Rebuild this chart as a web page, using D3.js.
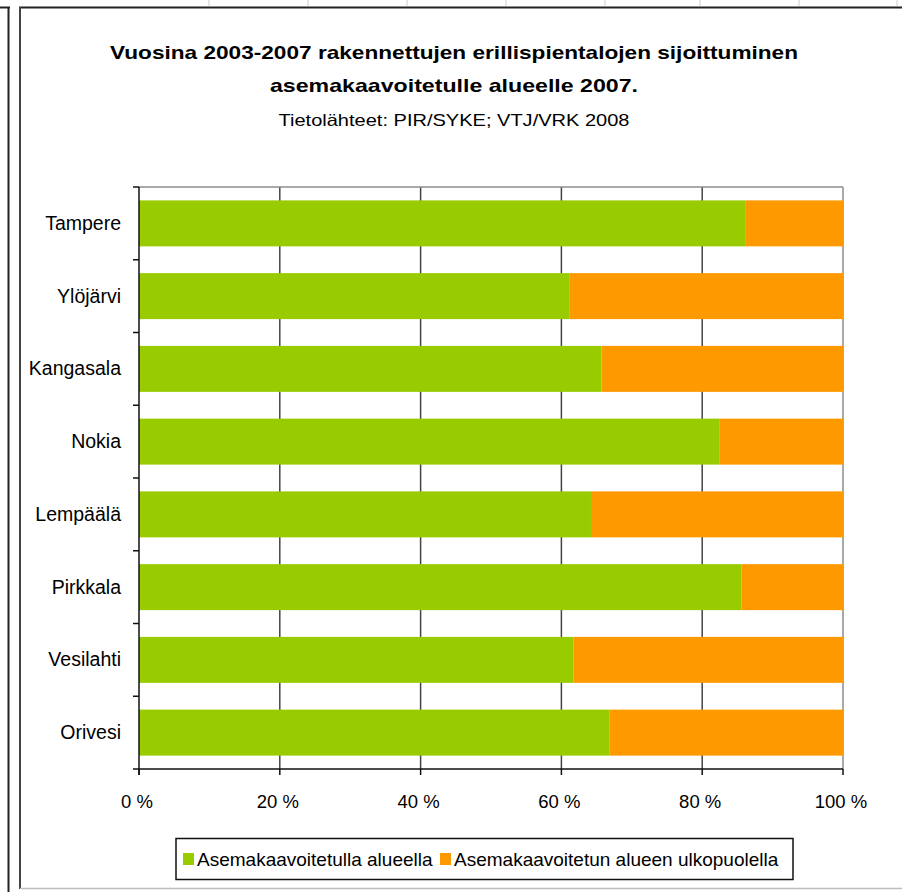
<!DOCTYPE html>
<html>
<head>
<meta charset="utf-8">
<script src="https://cdn.jsdelivr.net/npm/d3@7"></script>
<style>
html,body{margin:0;padding:0;background:#fff;}
svg{display:block;}
text{font-family:"Liberation Sans",Arial,sans-serif;fill:#000;}
</style>
</head>
<body>
<svg id="chart" width="902" height="892"></svg>
<script>
// ---- data ----
const categories = ["Tampere","Ylöjärvi","Kangasala","Nokia","Lempäälä","Pirkkala","Vesilahti","Orivesi"];
const inside  = [86.2, 61.1, 65.7, 82.5, 64.2, 85.6, 61.7, 66.8];
const outside = [13.8, 38.9, 34.3, 17.5, 35.8, 14.4, 38.3, 33.2];
const seriesNames = ["Asemakaavoitetulla alueella","Asemakaavoitetun alueen ulkopuolella"];
const seriesColors = ["#99cc00","#ff9900"];
const xTicks = [0,20,40,60,80,100];
const titleLines = ["Vuosina 2003-2007 rakennettujen erillispientalojen sijoittuminen","asemakaavoitetulle alueelle 2007."];
const subtitle = "Tietolähteet: PIR/SYKE; VTJ/VRK 2008";

const svg = d3.select("#chart");

// ---- surrounding frame (spreadsheet look) ----
[209,308,407,506,605,700,799,897].forEach(x=>{
  svg.append("line").attr("x1",x).attr("x2",x).attr("y1",0).attr("y2",6).attr("stroke","#cfcfcf").attr("stroke-width",1);
});
svg.append("line").attr("x1",0).attr("x2",10).attr("y1",7.5).attr("y2",7.5).attr("stroke","#222").attr("stroke-width",2);
svg.append("line").attr("x1",8.5).attr("x2",8.5).attr("y1",7).attr("y2",892).attr("stroke","#222").attr("stroke-width",2);
svg.append("line").attr("x1",19).attr("x2",902).attr("y1",7.5).attr("y2",7.5).attr("stroke","#222").attr("stroke-width",2);
svg.append("line").attr("x1",20).attr("x2",20).attr("y1",7).attr("y2",889).attr("stroke","#444").attr("stroke-width",2);
svg.append("line").attr("x1",20).attr("x2",902).attr("y1",888.5).attr("y2",888.5).attr("stroke","#bdbdbd").attr("stroke-width",1.5);

// ---- title ----
const tl = [
  {t:titleLines[0], y:59, size:18.5, w:688, bold:true},
  {t:titleLines[1], y:92, size:18.5, w:368, bold:true},
  {t:subtitle, y:126, size:16.5, w:351, bold:false}
];
tl.forEach(d=>{
  svg.append("text").attr("x",454).attr("y",d.y)
    .attr("text-anchor","middle")
    .attr("font-size",d.size)
    .attr("font-weight",d.bold?"bold":"normal")
    .attr("textLength",d.w).attr("lengthAdjust","spacingAndGlyphs")
    .text(d.t);
});

// ---- plot ----
const pLeft=139, pRight=843, pTop=187, pBottom=769;
const x = d3.scaleLinear().domain([0,100]).range([pLeft,pRight]);
const y = d3.scaleBand().domain(categories).range([pTop,pBottom]).paddingInner(0.368).paddingOuter(0.184);

// gridlines
svg.append("g").selectAll("line").data(xTicks.filter(v=>v>0&&v<100)).join("line")
  .attr("x1",d=>x(d)).attr("x2",d=>x(d)).attr("y1",pTop).attr("y2",pBottom)
  .attr("stroke","#444").attr("stroke-width",1.5);

// plot border top/right
svg.append("line").attr("x1",pLeft).attr("x2",pRight).attr("y1",pTop).attr("y2",pTop).attr("stroke","#8c8c8c").attr("stroke-width",1.5);
svg.append("line").attr("x1",pRight).attr("x2",pRight).attr("y1",pTop).attr("y2",pBottom).attr("stroke","#8c8c8c").attr("stroke-width",1.5);

// stacked bars
const rows = categories.map((c,i)=>({cat:c, a:inside[i], b:outside[i]}));
const stack = d3.stack().keys(["a","b"])(rows);
svg.append("g").selectAll("g").data(stack).join("g")
  .attr("fill",(d,i)=>seriesColors[i])
  .selectAll("rect").data(d=>d).join("rect")
  .attr("x",d=>x(d[0]))
  .attr("width",d=>x(d[1])-x(d[0]))
  .attr("y",d=>y(d.data.cat))
  .attr("height",y.bandwidth());

// y axis
svg.append("line").attr("x1",pLeft).attr("x2",pLeft).attr("y1",pTop).attr("y2",pBottom+6).attr("stroke","#111").attr("stroke-width",1.5);
const step = y.step();
const bounds = d3.range(categories.length+1).map(i=>pTop+i*step);
svg.append("g").selectAll("line").data(bounds).join("line")
  .attr("x1",pLeft-6).attr("x2",pLeft).attr("y1",d=>d).attr("y2",d=>d)
  .attr("stroke","#111").attr("stroke-width",1.5);
svg.append("g").selectAll("text").data(categories).join("text")
  .attr("x",121).attr("y",d=>y(d)+y.bandwidth()/2+6.5)
  .attr("text-anchor","end").attr("font-size",19.5)
  .text(d=>d);

// x axis
svg.append("line").attr("x1",pLeft).attr("x2",pRight).attr("y1",pBottom).attr("y2",pBottom).attr("stroke","#111").attr("stroke-width",1.5);
svg.append("g").selectAll("line").data(xTicks).join("line")
  .attr("x1",d=>x(d)).attr("x2",d=>x(d)).attr("y1",pBottom).attr("y2",pBottom+6)
  .attr("stroke","#111").attr("stroke-width",1.5);
svg.append("g").selectAll("text").data(xTicks).join("text")
  .attr("x",d=>x(d)-2).attr("y",808)
  .attr("text-anchor","middle").attr("font-size",18.5)
  .text(d=>d+" %");

// legend
svg.append("rect").attr("x",176).attr("y",838.5).attr("width",617).attr("height",41)
  .attr("fill","#fff").attr("stroke","#111").attr("stroke-width",1.5);
const legX = [183, 440];
seriesNames.forEach((n,i)=>{
  svg.append("rect").attr("x",legX[i]).attr("y",853).attr("width",11).attr("height",12).attr("fill",seriesColors[i]);
  svg.append("text").attr("x",legX[i]+14).attr("y",866).attr("font-size",19).text(n);
});
</script>
</body>
</html>
